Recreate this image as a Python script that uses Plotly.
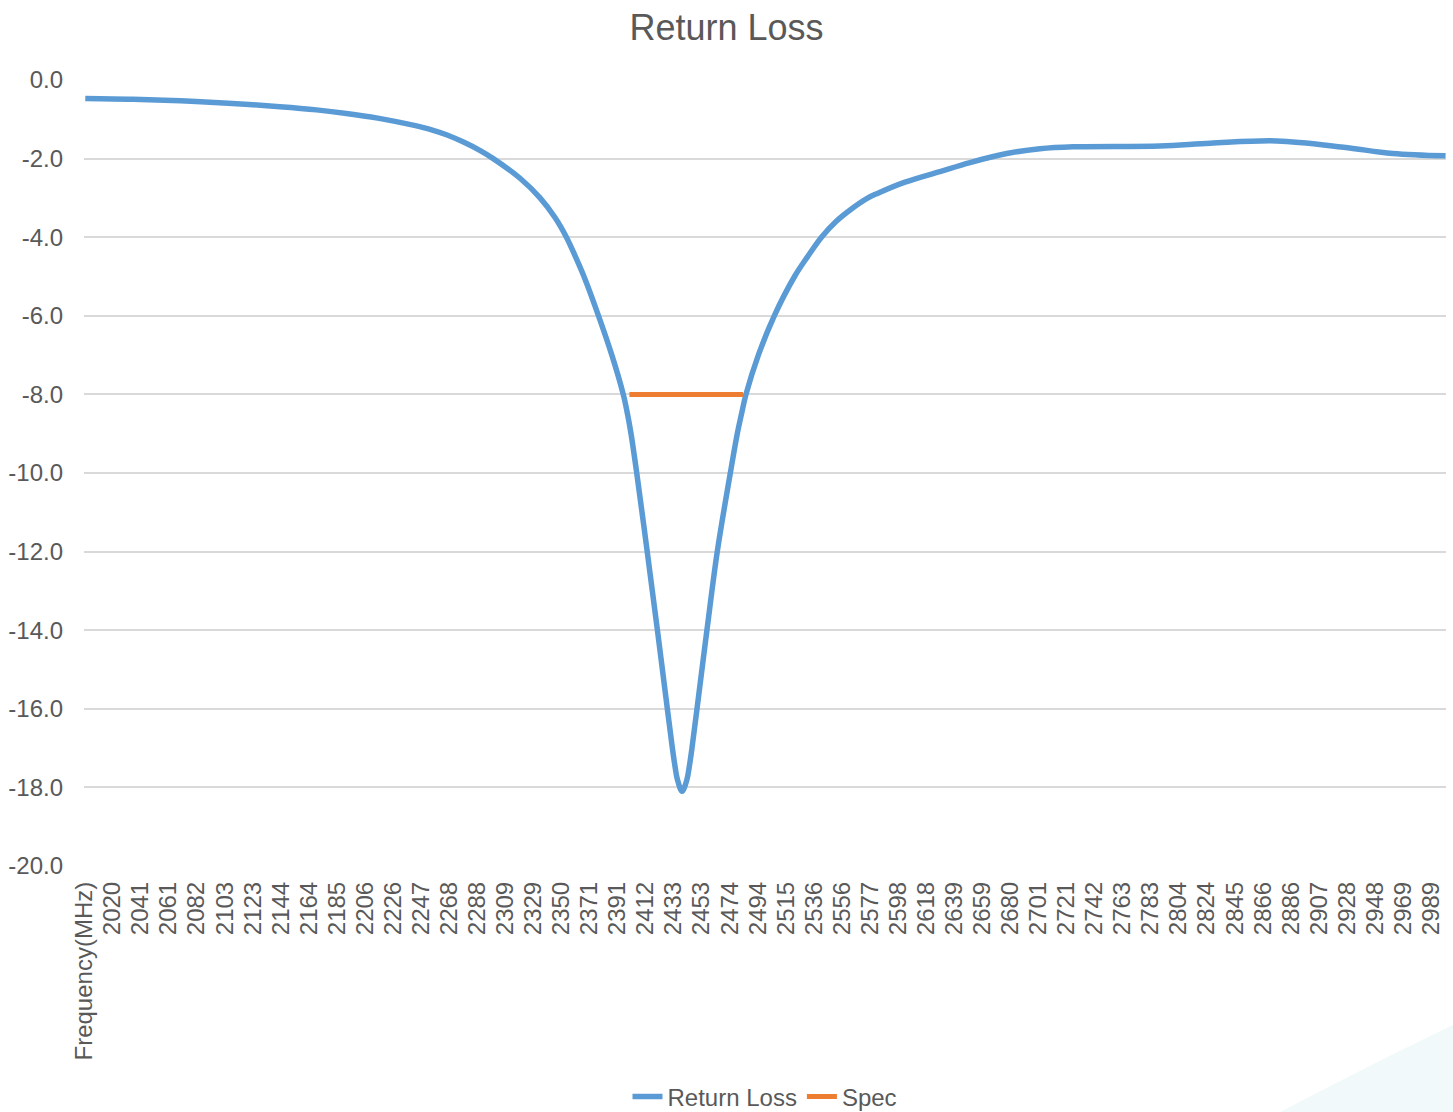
import plotly.graph_objects as go

# ---- data ----
FREQ_MHZ = [2000, 2035, 2070, 2105, 2143, 2170, 2192, 2215, 2241, 2254, 2266, 2278, 2290,
            2299.9, 2319.6, 2334.3, 2345.3, 2353.7, 2360.4, 2366.6, 2377.3, 2387.1, 2395.5,
            2398.6, 2401.2, 2405.4, 2413.1, 2420.6, 2427.9, 2431.6, 2433.7, 2435.3, 2438.7,
            2442.3, 2443.9, 2446.0, 2449.7, 2457.0, 2464.6, 2474.2, 2479.3, 2482.4, 2485.7,
            2494.8, 2506.5, 2521.4, 2530.9, 2541.2, 2551.9, 2562.5, 2575.4, 2582.7, 2602.6,
            2628.3, 2650.4, 2677.4, 2701.8, 2726.3, 2790, 2827, 2876, 2925, 2961, 3000]
RETURN_LOSS_DB = [-0.47, -0.49, -0.53, -0.59, -0.68, -0.76, -0.85, -0.97, -1.15, -1.26, -1.40, -1.58, -1.79,
                  -2.0, -2.5, -3.0, -3.5, -4.0, -4.5, -5.0, -6.0, -7.0, -8.0,
                  -8.5, -9.0, -10.0, -12.0, -14.0, -16.0, -17.0, -17.5, -17.8, -18.1,
                  -17.8, -17.5, -17.0, -16.0, -14.0, -12.0, -10.0, -9.0, -8.5, -8.0,
                  -7.0, -6.0, -5.0, -4.5, -4.0, -3.6, -3.3, -3.0, -2.88, -2.6,
                  -2.33, -2.1, -1.87, -1.75, -1.70, -1.68, -1.61, -1.55, -1.71, -1.87, -1.93]

SPEC_FREQ_MHZ = [2400, 2483.5]
SPEC_DB = [-8, -8]

X_TICK_LABELS = ["Frequency(MHz)", "2020", "2041", "2061", "2082", "2103", "2123", "2144",
                 "2164", "2185", "2206", "2226", "2247", "2268", "2288", "2309", "2329",
                 "2350", "2371", "2391", "2412", "2433", "2453", "2474", "2494", "2515",
                 "2536", "2556", "2577", "2598", "2618", "2639", "2659", "2680", "2701",
                 "2721", "2742", "2763", "2783", "2804", "2824", "2845", "2866", "2886",
                 "2907", "2928", "2948", "2969", "2989"]
Y_TICKS = [0, -2, -4, -6, -8, -10, -12, -14, -16, -18, -20]
Y_TICK_LABELS = ["0.0", "-2.0", "-4.0", "-6.0", "-8.0", "-10.0", "-12.0", "-14.0",
                 "-16.0", "-18.0", "-20.0"]

# category layout of the original (header cell + 1601 sweep points, label every 33rd)
FREQ_START = 2000
FREQ_STEP = 0.625
N_POINTS = 1601
LABEL_EVERY = 33

tick_pos = [FREQ_START + (k * LABEL_EVERY - 1) * FREQ_STEP for k in range(len(X_TICK_LABELS))]
x_range = [FREQ_START - 1.5 * FREQ_STEP, FREQ_START + (N_POINTS - 1) * FREQ_STEP + 0.5 * FREQ_STEP]

TEXT = "#595959"
FONT = "Liberation Sans, Arial, sans-serif"
W, H = 1453, 1112
ML, MR, MT, MB = 84, 7, 80, 246
PW, PH = W - ML - MR, H - MT - MB


def px_x(p):
    return (p - ML) / PW


def px_y(p):
    return (H - MB - p) / PH


fig = go.Figure()
fig.add_trace(go.Scatter(
    x=FREQ_MHZ, y=RETURN_LOSS_DB, name="Return Loss", mode="lines",
    line=dict(color="#5B9BD5", width=5.5, shape="spline", smoothing=1.0),
))
fig.add_trace(go.Scatter(
    x=SPEC_FREQ_MHZ, y=SPEC_DB, name="Spec", mode="lines",
    line=dict(color="#ED7D31", width=5),
))

# faint decorative sweep in the lower right corner of the page
fig.add_shape(type="path", xref="paper", yref="paper", layer="below",
              path=(f"M {px_x(1280)} {px_y(H)} Q {px_x(1380)} {px_y(1060)} {px_x(W)} {px_y(1025)} "
                    f"L {px_x(W)} {px_y(H)} Z"),
              fillcolor="#F1F9FA", line=dict(width=0))

fig.update_layout(
    width=W, height=H,
    margin=dict(l=ML, r=MR, t=MT, b=MB, autoexpand=False),
    paper_bgcolor="white", plot_bgcolor="rgba(0,0,0,0)",
    font=dict(family=FONT, size=24, color=TEXT),
    title=dict(text="Return Loss", x=0.5, xref="container", xanchor="center",
               y=1 - 27 / H, yref="container", yanchor="middle",
               font=dict(family=FONT, size=36, color=TEXT)),
    showlegend=True,
    legend=dict(orientation="h", x=0.5, xanchor="center", y=px_y(1097), yanchor="middle",
                font=dict(family=FONT, size=24, color=TEXT),
                bgcolor="rgba(0,0,0,0)"),
    xaxis=dict(range=x_range, tickmode="array", tickvals=tick_pos, ticktext=X_TICK_LABELS,
               tickangle=-90, showgrid=False, zeroline=False, showline=False, ticks="",
               ticklabelstandoff=10, automargin=False,
               tickfont=dict(family=FONT, size=24, color=TEXT)),
    yaxis=dict(range=[-20, 0], tickmode="array", tickvals=Y_TICKS, ticktext=Y_TICK_LABELS,
               showgrid=True, gridcolor="#D9D9D9", gridwidth=2, zeroline=False,
               showline=False, ticks="", ticklabelstandoff=20, automargin=False,
               tickfont=dict(family=FONT, size=24, color=TEXT)),
)

fig.write_html("out.html", config={"displayModeBar": False},
               post_script="document.body.style.margin='0';document.body.style.overflow='hidden';")
